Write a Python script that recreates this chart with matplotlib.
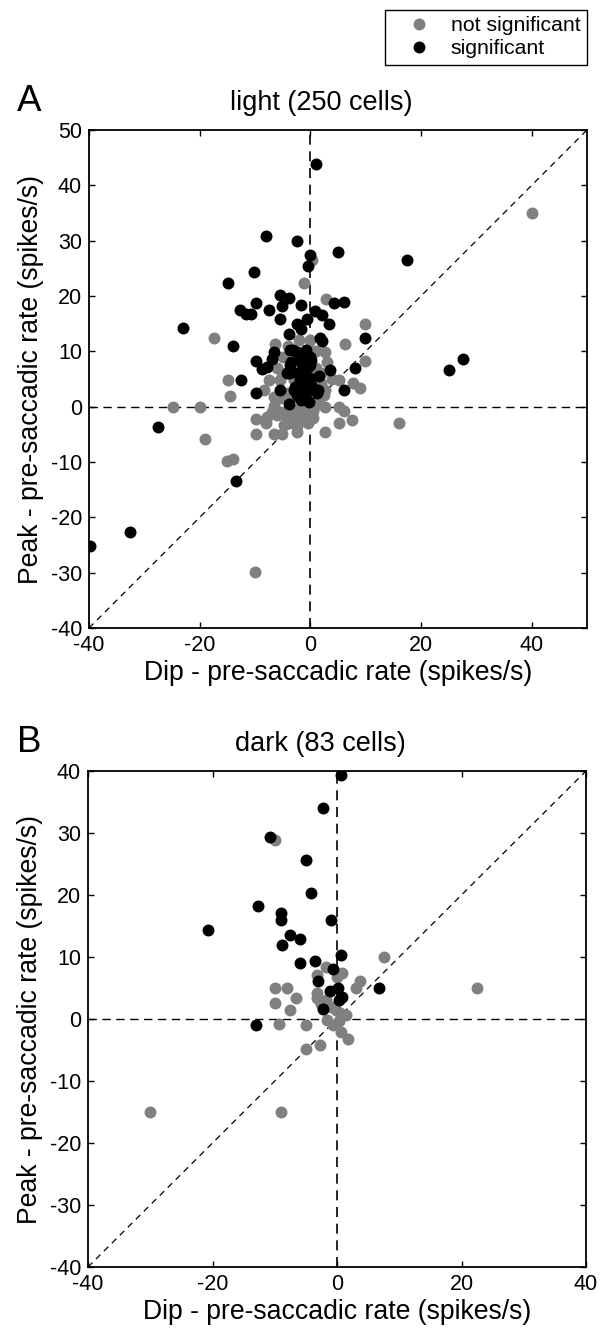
import numpy as np
import matplotlib
matplotlib.use('Agg')
import matplotlib.pyplot as plt
from matplotlib.lines import Line2D

plt.rcParams['font.family'] = ['Liberation Sans', 'DejaVu Sans']
plt.rcParams['axes.unicode_minus'] = False

GRAY = '#808080'
MS = 8.6

# Panel A (light), not significant cells
light_ns_x = [40.0, -1.2, 2.8, 9.9, -17.5, 6.2, -6.3, 0.0, 2.6, 0.0, 9.9, -14.9, -7.5, -5.1,
              -8.4, -14.6, 5.1, 7.8, 9.0, 2.7, -5.4, -3.0, -6.6, 2.4, 2.0, -24.9, -19.9, 2.6,
              5.1, 6.1, -5.4, -3.0, -1.5, -9.9, -7.8, -4.2, -3.0, -2.4, -6.6, -9.9, -5.1, -4.8,
              2.6, 5.1, 7.5, 16.0, -19.0, -15.1, -14.0, -10.0, -6.0, -3.9, -1.0, -2.0, 0.5,
              1.0, 1.5, -1.0, -4.0, -5.5, -6.5, -7.0, 2.0, 1.0, -6.0, -5.0, -4.0, -2.0, 1.0,
              3.0, 4.0, -1.5, 0.5, -8.0, 0.3, -2.5, -0.5, 1.5, -3.5, -4.5, 0.8]
light_ns_y = [35.0, 22.4, 19.4, 14.9, 12.5, 11.3, 11.3, 12.0, 9.9, 10.2, 8.3, 4.9, 4.9, 6.0,
              3.0, 2.0, 4.9, 4.2, 3.4, 3.0, 4.8, 4.8, 1.8, 2.1, 4.2, 0.0, 0.0, 0.0,
              0.0, -0.8, -0.9, -0.6, 0.0, -2.3, -1.9, -2.4, -1.8, -4.5, -5.0, -5.0, -5.0, -3.3,
              -4.5, -3.0, -2.4, -3.0, -5.9, -9.9, -9.5, -29.9, -1.5, -3.0, -1.2, -0.5, -0.8,
              1.0, 2.5, 4.0, 2.5, 1.5, 0.2, -1.0, 6.0, 7.0, 7.0, 9.0, 11.0, 12.0, 10.0,
              8.0, 5.0, -2.5, -2.0, -3.0, 26.5, -3.5, -3.0, 0.5, 1.5, -1.0, 3.5]

# Panel A (light), significant cells
light_sig_x = [1.1, -8.1, -2.5, 0.0, -0.5, 5.0, 17.5, -14.9, -10.2, -23.0, -12.7, -11.7, -10.7,
               -9.9, -7.5, -5.5, -3.9, -5.1, -5.4, -1.7, 0.9, 2.1, 3.3, 4.2, 6.0, -2.4, -1.6,
               -0.6, -3.9, 1.8, 2.1, 9.9, -14.0, -9.9, -6.6, -6.9, -7.8, -8.7, -3.6, -2.4,
               -3.5, -1.8, 0.0, 0.0, -1.5, -3.9, 3.6, 8.0, 25.0, 27.6, -12.5, 1.6, -0.1, -5.4,
               -3.0, -1.2, 6.0, -9.9, -0.9, 1.2, -1.8, -0.3, -3.9, -27.5, -13.4, -32.6, -39.9,
               -0.7, -1.6, -3.7, -4.3, -3.1, -1.6, -0.4, 0.2, -0.7, -1.9, -2.8, -1.6, -0.7,
               0.2, 1.4, -2.5, -1.6, -0.7, -3.1, -1.9]
light_sig_y = [43.8, 30.8, 30.0, 27.5, 25.4, 28.0, 26.5, 22.4, 24.4, 14.3, 17.4, 16.7, 16.7,
               18.7, 17.4, 20.2, 19.6, 18.2, 15.9, 18.4, 17.3, 16.5, 15.0, 18.7, 19.0, 15.0, 14.1,
               15.9, 13.1, 12.5, 11.9, 12.5, 11.0, 8.3, 9.9, 8.7, 7.2, 6.8, 10.2, 9.9,
               8.1, 8.4, 8.9, 7.5, 6.6, 6.1, 6.6, 6.9, 6.6, 8.7, 4.9, 5.5, 5.1, 3.1,
               3.1, 3.6, 3.0, 2.4, 2.1, 2.4, 1.5, 0.9, 0.5, -3.7, -13.4, -22.6, -25.1,
               10.2, 8.1, 7.5, 6.0, 6.3, 6.3, 7.2, 8.4, 4.8, 4.8, 3.6, 3.3, 2.4,
               3.9, 3.0, 2.1, 1.2, 1.2, 10.2, 9.6]

# Panel B (dark), not significant cells
dark_ns_x = [-10.0, 7.5, 22.5, -1.7, 0.8, 0.0, -3.2, 3.7, 3.0, -10.0, -8.1, -6.6, -10.0, -7.5,
             -9.3, -5.0, -3.2, -3.2, -1.8, -0.2, 1.5, -1.6, -0.7, 0.4, 0.7, 1.8, -2.7, -5.0,
             -30.0, -9.0, -2.5, -1.0, 0.5]
dark_ns_y = [28.8, 10.0, 5.0, 8.4, 7.4, 6.8, 7.1, 6.2, 5.0, 5.0, 5.0, 3.4, 2.6, 1.4,
             -0.8, -1.0, 4.2, 3.4, 3.1, 1.5, 0.7, -0.1, -0.9, -0.4, -2.1, -3.3, -4.2, -4.9,
             -15.0, -15.0, 2.5, 2.0, 1.0]

# Panel B (dark), significant cells
dark_sig_x = [0.7, -2.2, -10.7, -5.0, -4.2, -12.7, -9.0, -9.0, -0.9, -20.7, -7.5, -6.0, -8.9,
              0.7, -5.9, -3.5, -0.6, -3.0, 6.8, 0.1, -1.1, 0.8, 0.3, -2.3, -13.0]
dark_sig_y = [39.4, 34.1, 29.3, 25.7, 20.3, 18.2, 17.1, 15.9, 15.9, 14.3, 13.5, 12.9, 11.9,
              10.3, 9.0, 9.3, 8.1, 6.2, 5.0, 5.0, 4.5, 3.6, 3.0, 1.6, -1.0]

XLABEL = 'Dip - pre-saccadic rate (spikes/s)'
YLABEL = 'Peak - pre-saccadic rate (spikes/s)'


def draw_panel(ax, ns_x, ns_y, sig_x, sig_y, xlim, ylim, yticks, title):
    lo = min(xlim[0], ylim[0])
    hi = min(xlim[1], ylim[1])
    ax.axhline(0, color='k', lw=1.0, ls=(0, (6, 4)), zorder=1)
    ax.axvline(0, color='k', lw=1.2, ls=(0, (6, 4)), zorder=1)
    ax.plot([lo, hi], [lo, hi], color='k', lw=0.9, ls=(0, (5, 4)), zorder=1)
    ax.plot(ns_x, ns_y, 'o', ms=MS, mfc=GRAY, mec=GRAY, mew=0, zorder=2)
    ax.plot(sig_x, sig_y, 'o', ms=MS, mfc='k', mec='k', mew=0, zorder=3)
    ax.set_xlim(xlim)
    ax.set_ylim(ylim)
    ax.set_xticks([-40, -20, 0, 20, 40])
    ax.set_yticks(yticks)
    ax.tick_params(direction='in', length=4.5, width=1.0, top=True, right=True,
                   labelsize=15.5, pad=5)
    for s in ax.spines.values():
        s.set_linewidth(1.3)
    ax.set_xlabel(XLABEL, fontsize=19.2, labelpad=3)
    ax.set_ylabel(YLABEL, fontsize=19.2, labelpad=5)
    ax.text(0.466, 1.0 + 20 / 498, title, transform=ax.transAxes, ha='center',
            va='baseline', fontsize=19.5)


fig = plt.figure(figsize=(6, 13.38), dpi=100)
ax_a = fig.add_axes([89 / 600, 1 - 628 / 1338, 498 / 600, 498 / 1338])
ax_b = fig.add_axes([88 / 600, 1 - 1267 / 1338, 498 / 600, 496 / 1338])

draw_panel(ax_a, light_ns_x, light_ns_y, light_sig_x, light_sig_y,
           (-40, 50), (-40, 50), np.arange(-40, 51, 10), 'light (250 cells)')
draw_panel(ax_b, dark_ns_x, dark_ns_y, dark_sig_x, dark_sig_y,
           (-40, 40), (-40, 40), np.arange(-40, 41, 10), 'dark (83 cells)')

fig.text(17 / 600, 1 - 110.7 / 1338, 'A', fontsize=26.5, va='baseline')
fig.text(17 / 600, 1 - 751.7 / 1338, 'B', fontsize=26.5, va='baseline')

handles = [Line2D([], [], ls='none', marker='o', ms=MS, mfc=GRAY, mec=GRAY, mew=0),
           Line2D([], [], ls='none', marker='o', ms=MS, mfc='k', mec='k', mew=0)]
leg = fig.legend(handles, ['not significant', 'significant'], loc='upper right',
                 bbox_to_anchor=(587 / 600, 1 - 10 / 1338), borderaxespad=0,
                 fontsize=15.3, frameon=True, fancybox=False, framealpha=1,
                 edgecolor='k', handlelength=2.6, handletextpad=0.2,
                 labelspacing=0.18, borderpad=0.3)
leg.get_frame().set_linewidth(1.0)

fig.savefig('out.png', dpi=100)
